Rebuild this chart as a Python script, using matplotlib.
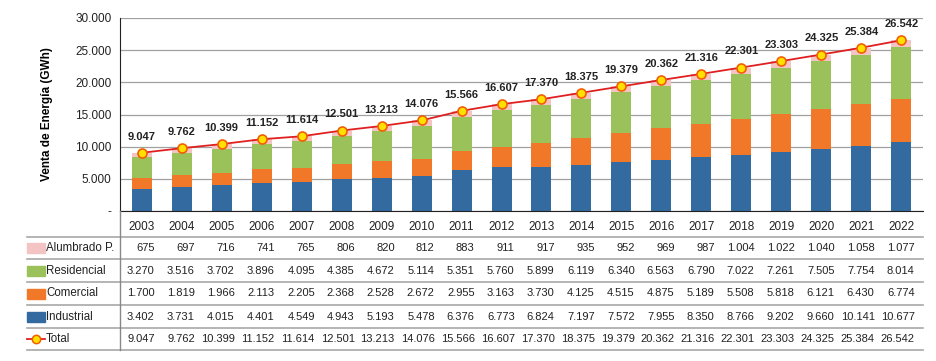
import matplotlib
matplotlib.use('Agg')
import matplotlib.pyplot as plt
import matplotlib.transforms as mtransforms
from matplotlib.lines import Line2D
import numpy as np

plt.rcParams['font.family'] = ['Liberation Sans', 'DejaVu Sans']

years = [str(y) for y in range(2003, 2023)]
alumbrado = [675, 697, 716, 741, 765, 806, 820, 812, 883, 911, 917, 935, 952, 969, 987, 1004, 1022, 1040, 1058, 1077]
residencial = [3270, 3516, 3702, 3896, 4095, 4385, 4672, 5114, 5351, 5760, 5899, 6119, 6340, 6563, 6790, 7022, 7261, 7505, 7754, 8014]
comercial = [1700, 1819, 1966, 2113, 2205, 2368, 2528, 2672, 2955, 3163, 3730, 4125, 4515, 4875, 5189, 5508, 5818, 6121, 6430, 6774]
industrial = [3402, 3731, 4015, 4401, 4549, 4943, 5193, 5478, 6376, 6773, 6824, 7197, 7572, 7955, 8350, 8766, 9202, 9660, 10141, 10677]
total = [9047, 9762, 10399, 11152, 11614, 12501, 13213, 14076, 15566, 16607, 17370, 18375, 19379, 20362, 21316, 22301, 23303, 24325, 25384, 26542]

c_ind = '#336aa0'
c_com = '#f07828'
c_res = '#9bc25a'
c_alu = '#f4c4c4'
c_line = '#e02020'


def fmt(v):
    return f"{v:,.0f}".replace(',', '.')


W, H = 937, 361
fig = plt.figure(figsize=(W / 100, H / 100), dpi=100)
ax = fig.add_axes([120 / W, 1 - 211 / H, 803 / W, 193 / H])

x = np.arange(len(years))
bw = 0.5
b1 = np.array(industrial)
b2 = b1 + np.array(comercial)
b3 = b2 + np.array(residencial)
ax.bar(x, industrial, bw, color=c_ind, zorder=2)
ax.bar(x, comercial, bw, bottom=b1, color=c_com, zorder=2)
ax.bar(x, residencial, bw, bottom=b2, color=c_res, zorder=2)
ax.bar(x, alumbrado, bw, bottom=b3, color=c_alu, zorder=2)
ax.plot(x, total, color=c_line, lw=1.3, marker='o', ms=6.5, mfc='#ffe000',
        mec='#f06000', mew=1.2, zorder=3)
for xi, t in zip(x, total):
    ax.annotate(fmt(t), (xi, t), xytext=(0, 8), textcoords='offset points',
                ha='center', va='bottom', fontsize=8, fontweight='bold', color='#222222')

ax.set_xlim(-0.54, 19.54)
ax.set_ylim(0, 30000)
ax.set_yticks(range(0, 30001, 5000))
ax.set_yticklabels(['-'] + [fmt(v) for v in range(5000, 30001, 5000)])
ax.set_xticks(x)
ax.set_xticklabels(years)
ax.tick_params(axis='both', length=0, labelsize=8.5, colors='#222222')
ax.tick_params(axis='x', pad=7)
ax.tick_params(axis='y', pad=6)
ax.grid(axis='y', color='#a0a0a0', lw=0.9, zorder=0)
for s in ['top', 'right']:
    ax.spines[s].set_visible(False)
ax.spines['left'].set_color('#222222')
ax.spines['bottom'].set_color('#222222')
ax.set_ylabel('Venta de Energía (GWh)', fontsize=8.5, fontweight='bold', labelpad=16)

# table below the chart
px = lambda yy: 1 - yy / H
trans = mtransforms.blended_transform_factory(ax.transData, fig.transFigure)
for yy in [237, 259, 282, 305, 328, 350]:
    fig.add_artist(Line2D([27 / W, 923 / W], [px(yy), px(yy)], color='#a8a8a8', lw=1.2))
fig.add_artist(Line2D([120 / W, 120 / W], [px(211), px(350)], color='#888888', lw=1.0))

rows = [('Alumbrado P.', alumbrado, c_alu),
        ('Residencial', residencial, c_res),
        ('Comercial', comercial, c_com),
        ('Industrial', industrial, c_ind),
        ('Total', total, None)]
centers = [248, 270.5, 293.5, 316.5, 339]
for (name, vals, col), yc in zip(rows, centers):
    if col is not None:
        fig.add_artist(plt.Rectangle((27 / W, px(yc + 5)), 18 / W, 10 / H,
                                     transform=fig.transFigure, color=col))
    else:
        fig.add_artist(Line2D([27 / W, 45 / W], [px(yc), px(yc)], color=c_line, lw=1.3))
        fig.add_artist(Line2D([36 / W], [px(yc)], marker='o', ms=6, mfc='#ffe000',
                              mec='#f06000', mew=1.1))
    fig.text(46 / W, px(yc), name, ha='left', va='center', fontsize=8.3, color='#222222')
    for xi, v in zip(x, vals):
        ax.text(xi + 0.33, px(yc), fmt(v), transform=trans, ha='right', va='center',
                fontsize=8, color='#222222')

fig.savefig('out.png', dpi=100)
